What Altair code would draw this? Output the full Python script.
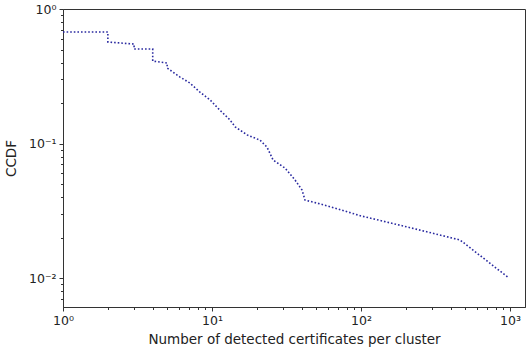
import altair as alt
import pandas as pd

# CCDF curve vertices
cluster_size = [1, 2, 2, 3, 3, 4, 4, 5, 5, 6.1, 7.1, 8.3, 9.7, 11.3, 13.2, 14.3, 17.2, 21,
                23.4, 25.7, 30.9, 36.1, 40.2, 42.1, 50.7, 60, 100, 204, 462, 985]
ccdf = [0.675, 0.675, 0.568, 0.549, 0.504, 0.504, 0.410, 0.397, 0.364, 0.312, 0.282, 0.241,
        0.211, 0.177, 0.150, 0.133, 0.116, 0.106, 0.094, 0.0754, 0.0657, 0.0535, 0.0451,
        0.038, 0.0361, 0.0343, 0.029, 0.024, 0.0192, 0.0100]

x_ticks = [1, 2, 3, 4, 5, 6, 7, 8, 9, 10, 20, 30, 40, 50, 60, 70, 80, 90,
           100, 200, 300, 400, 500, 600, 700, 800, 900, 1000]
y_ticks = [0.007, 0.008, 0.009, 0.01, 0.02, 0.03, 0.04, 0.05, 0.06, 0.07, 0.08, 0.09,
           0.1, 0.2, 0.3, 0.4, 0.5, 0.6, 0.7, 0.8, 0.9, 1]

df = pd.DataFrame({"x": cluster_size, "y": ccdf, "order": list(range(len(ccdf)))})

x_label = ("datum.value==1?'10⁰':datum.value==10?'10¹':datum.value==100?'10²':"
           "datum.value==1000?'10³':''")
y_label = ("datum.value==1?'10⁰':abs(datum.value-0.1)<1e-9?'10⁻¹':"
           "abs(datum.value-0.01)<1e-9?'10⁻²':''")

major_x = "datum.value==1||datum.value==10||datum.value==100||datum.value==1000"
major_y = "datum.value==1||abs(datum.value-0.1)<1e-9||abs(datum.value-0.01)<1e-9"

chart = alt.Chart(df).mark_line(
    color="#2a2aa0", strokeWidth=1.6, strokeDash=[1.6, 2.0], strokeCap="butt"
).encode(
    x=alt.X("x:Q", scale=alt.Scale(type="log", domain=[1, 1260], nice=False),
            axis=alt.Axis(title="Number of detected certificates per cluster",
                          values=x_ticks, labelExpr=x_label, grid=False,
                          tickSize={"condition": {"test": major_x, "value": 4}, "value": 2.5},
                          labelFlush=False, labelPadding=3, titlePadding=6)),
    y=alt.Y("y:Q", scale=alt.Scale(type="log", domain=[0.0061, 1], nice=False),
            axis=alt.Axis(title="CCDF", values=y_ticks, labelExpr=y_label, grid=False,
                          tickSize={"condition": {"test": major_y, "value": 4}, "value": 2.5},
                          labelFlush=False, labelPadding=3, titlePadding=10)),
    order="order:Q",
).properties(
    width=462, height=298,
    autosize=alt.AutoSizeParams(type="none"),
    padding={"left": 63, "top": 9, "right": 2, "bottom": 44},
).configure_view(
    stroke="#333333", strokeWidth=1
).configure_axis(
    domainColor="#333333", tickColor="#333333", labelColor="#222222", titleColor="#222222",
    labelFont="DejaVu Sans", titleFont="DejaVu Sans", labelFontSize=12.5, titleFontSize=13.5,
    titleFontWeight="normal", domainWidth=1, tickWidth=1
)

chart.save("out.html", embed_options={"renderer": "svg", "actions": False})
